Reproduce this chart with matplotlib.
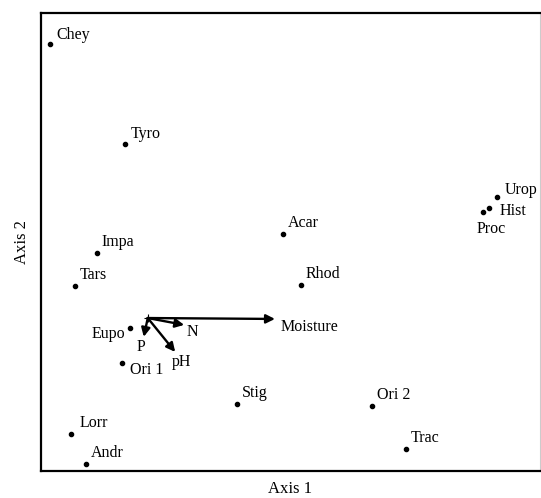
import matplotlib
matplotlib.use('Agg')
import matplotlib.pyplot as plt

plt.rcParams['font.family'] = ['Liberation Serif', 'DejaVu Serif']

# site / taxon scores (axis units 0-100)
taxa = ['Chey', 'Tyro', 'Impa', 'Tars', 'Eupo', 'Ori 1', 'Lorr', 'Andr',
        'Stig', 'Acar', 'Rhod', 'Ori 2', 'Trac', 'Urop', 'Hist', 'Proc']
axis1 = [1.8, 16.8, 11.2, 6.8, 17.8, 16.2, 6.0, 9.0,
         39.3, 48.5, 52.1, 66.3, 73.1, 91.4, 89.8, 88.6]
axis2 = [93.2, 71.4, 47.6, 40.4, 31.2, 23.6, 8.1, 1.5,
         14.6, 51.7, 40.6, 14.2, 4.8, 59.8, 57.4, 56.6]

# label offsets in pixels (dx, dy, ha)
lab_off = {'Eupo': (-5, -6, 'right'), 'Ori 1': (8, -7, 'left'),
           'Hist': (11, -3, 'left'), 'Proc': (8, -17, 'center'),
           'Urop': (8, 7, 'left'), 'Chey': (6, 9, 'left'),
           'Tyro': (6, 10, 'left'), 'Lorr': (9, 11, 'left')}

# environmental vectors
origin = (21.4, 33.4)
env = ['Moisture', 'N', 'P', 'pH']
env_x = [46.9, 28.7, 20.6, 26.9]
env_y = [33.2, 31.9, 29.3, 26.0]
env_off = {'Moisture': (6, -8, 'left'), 'N': (2, -7, 'left'),
           'P': (-3, -10, 'center'), 'pH': (6, -10, 'center')}

fig = plt.figure(figsize=(5.41, 4.98), dpi=100)
ax = fig.add_axes([0.0758, 0.0542, 0.922, 0.9197])

ax.scatter(axis1, axis2, s=9, color='black', zorder=3)
for name, x, y in zip(taxa, axis1, axis2):
    dx, dy, ha = lab_off.get(name, (5, 11, 'left'))
    ax.annotate(name, (x, y), xytext=(dx, dy), textcoords='offset pixels',
                ha=ha, va='center', fontsize=11.5)

ax.plot(*origin, marker='+', color='black', ms=6, mew=0.8)
for name, x, y in zip(env, env_x, env_y):
    ax.annotate('', xy=(x, y), xytext=origin,
                arrowprops=dict(arrowstyle='-|>', lw=1.7, color='black',
                                mutation_scale=13, shrinkA=0, shrinkB=0))
    dx, dy, ha = env_off[name]
    ax.annotate(name, (x, y), xytext=(dx, dy), textcoords='offset pixels',
                ha=ha, va='center', fontsize=11.5)

ax.set_xlim(0, 100)
ax.set_ylim(0, 100)
ax.set_xticks([])
ax.set_yticks([])
for s in ['left', 'top', 'bottom']:
    ax.spines[s].set_linewidth(1.6)
ax.spines['right'].set_color('#cccccc')
ax.spines['right'].set_linewidth(0.8)

ax.set_xlabel('Axis 1', fontsize=12, labelpad=7)
ax.set_ylabel('Axis 2', fontsize=12, labelpad=8)

fig.savefig('out.png', dpi=100)
